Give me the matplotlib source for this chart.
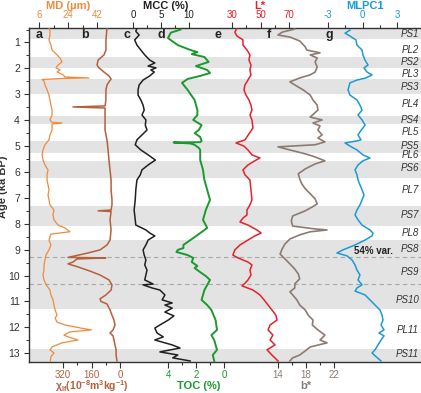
import matplotlib
matplotlib.use("Agg")
import matplotlib.pyplot as plt

plt.rcParams['font.family'] = ['Liberation Sans', 'DejaVu Sans']
plt.rcParams['mathtext.fontset'] = 'custom'
plt.rcParams['mathtext.rm'] = 'Liberation Sans:bold'
plt.rcParams['mathtext.default'] = 'rm'

# ---------------- data ----------------
md_age = [0.44, 0.55, 0.71, 0.90, 1.10, 1.29, 1.48, 1.60, 1.75, 1.87, 1.98, 2.06, 2.14, 2.25, 2.33, 2.37, 2.39,
          2.43, 2.47, 2.64, 2.83, 3.03, 3.22, 3.42, 3.61, 3.80, 3.99, 4.08, 4.11, 4.15, 4.38, 4.57, 4.76, 4.95,
          5.15, 5.34, 5.54, 5.73, 5.92, 6.11, 6.31, 6.50, 6.69, 6.89, 7.08, 7.27, 7.47, 7.66, 7.85, 8.05, 8.16,
          8.31, 8.40, 8.63, 8.82, 9.01, 9.21, 9.40, 9.59, 9.79, 9.98, 10.17, 10.36, 10.56, 10.75, 10.94, 11.14,
          11.33, 11.53, 11.64, 11.80, 11.91, 12.03, 12.10, 12.18, 12.30, 12.37, 12.49, 12.60, 12.76, 12.87,
          12.99, 13.14, 13.30]
md_val = [12.2, 12.8, 12.8, 12.2, 13.4, 14.1, 17.2, 19.0, 20.3, 17.8, 16.6, 19.0, 17.2, 21.0, 22.0, 37.0, 20.0,
          7.9, 9.0, 9.7, 11.0, 12.2, 12.8, 13.4, 14.1, 14.1, 12.8, 14.0, 20.3, 14.1, 14.1, 12.8, 12.2, 9.7,
          8.5, 7.9, 8.5, 9.7, 11.6, 11.0, 11.0, 11.6, 12.2, 11.6, 12.2, 12.8, 15.3, 14.7, 15.3, 17.8, 22.1,
          25.2, 13.4, 12.2, 13.4, 12.2, 10.3, 9.7, 9.1, 9.1, 8.5, 9.1, 10.5, 12.8, 13.4, 14.7, 15.3,
          16.0, 17.2, 16.0, 17.2, 22.1, 32.0, 38.5, 25.0, 21.5, 24.0, 30.2, 20.3, 14.1, 12.8,
          15.3, 13.4, 13.0]

chi_age = [0.44, 0.90, 1.29, 1.48, 1.68, 1.87, 1.98, 2.14, 2.29, 2.41, 2.50, 2.64, 2.83, 3.22, 3.45, 3.49, 3.53,
           3.61, 3.99, 4.38, 4.76, 5.15, 5.54, 5.92, 6.31, 6.69, 7.08, 7.27, 7.47, 7.50, 7.53, 7.85, 8.24, 8.63,
           8.82, 9.01, 9.13, 9.24, 9.30, 9.32, 9.36, 9.48, 9.55, 9.67, 9.83, 9.98, 10.17, 10.36, 10.56, 10.75,
           10.90, 11.00, 11.10, 11.33, 11.53, 11.72, 11.91, 12.10, 12.22, 12.33, 12.49, 12.68, 12.87, 13.07, 13.30]
chi_val = [73, 79, 79, 90, 123, 129, 118, 90, 62, 50, 60, 73, 79, 79, 84, 264, 84,
           84, 84, 84, 73, 67, 62, 56, 50, 50, 45, 45, 50, 123, 50, 56, 50, 56,
           73, 112, 180, 252, 292, 80, 241, 264, 292, 235, 168, 112, 62, 45, 50, 79,
           112, 107, 73, 56, 45, 34, 28, 39, 56, 39, 34, 28, 22, 22, 17]

mcc_age = [0.44, 0.57, 0.71, 0.90, 1.10, 1.29, 1.48, 1.68, 1.79, 1.91, 1.98, 2.06, 2.14, 2.29, 2.45, 2.64, 2.83,
           3.03, 3.22, 3.42, 3.61, 3.80, 3.99, 4.19, 4.38, 4.57, 4.76, 4.95, 5.15, 5.34, 5.54, 5.73, 5.92, 6.11,
           6.31, 6.69, 7.08, 7.47, 7.85, 8.05, 8.24, 8.36, 8.47, 8.63, 8.82, 9.01, 9.21, 9.40, 9.59, 9.79, 9.98,
           10.17, 10.33, 10.36, 10.48, 10.56, 10.75, 10.94, 11.06, 11.14, 11.26, 11.41, 11.56, 11.72, 11.91,
           12.03, 12.22, 12.37, 12.49, 12.68, 12.80, 12.95, 13.07, 13.18, 13.30]
mcc_val = [0.7, 0.5, 1.1, 0.3, 0.7, 1.4, 2.1, 3.0, 3.9, 2.7, 4.1, 3.2, 3.8, 3.0, 1.8, 1.1, 0.9,
           0.9, 1.4, 1.8, 2.0, 1.6, 2.3, 2.2, 2.5, 1.6, 0.7, 0.4, 1.4, 2.7, 4.0, 2.7, 1.6, 1.3,
           0.7, 0.5, 0.4, 0.2, 0.4, 0.5, 2.3, 3.0, 3.9, 2.7, 2.3, 1.8, 2.0, 2.3, 2.1, 2.5, 2.3,
           2.1, 3.6, 1.8, 3.4, 4.8, 5.7, 5.2, 7.0, 5.7, 7.0, 5.7, 7.3, 6.3, 4.8,
           3.9, 4.3, 5.4, 3.9, 7.0, 8.4, 4.8, 8.0, 7.1, 10.2]

toc_age = [0.50, 0.62, 0.83, 1.10, 1.29, 1.37, 1.45, 1.56, 1.75, 1.91, 2.06, 2.18, 2.29, 2.41, 2.56, 2.83, 3.22,
           3.61, 3.80, 3.99, 4.19, 4.38, 4.50, 4.65, 4.80, 4.85, 4.86, 4.90, 4.95, 5.07, 5.15, 5.54, 5.92, 6.31,
           6.69, 7.08, 7.47, 7.85, 8.16, 8.44, 8.63, 8.82, 8.94, 9.01, 9.09, 9.21, 9.32, 9.48, 9.63, 9.71, 9.87,
           10.02, 10.17, 10.56, 10.94, 11.14, 11.33, 11.72, 12.10, 12.30, 12.49, 12.68, 12.87, 13.07, 13.30]
toc_val = [3.1, 3.8, 4.0, 3.3, 2.4, 1.9, 2.3, 1.4, 1.1, 2.0, 1.2, 1.0, 1.7, 2.6, 3.0, 2.6, 2.1,
           1.9, 1.9, 2.2, 1.6, 1.8, 2.1, 1.7, 1.6, 1.7, 3.6, 2.4, 2.1, 1.8, 1.7, 1.7, 1.5, 1.4,
           1.2, 1.0, 1.3, 1.5, 1.2, 1.9, 2.4, 2.9, 2.9, 3.3, 3.4, 2.6, 2.2, 2.3, 1.9, 2.1, 1.7,
           1.3, 1.0, 1.4, 1.6, 1.2, 0.9, 0.6, 0.5, 0.9, 0.7, 0.6, 0.5, 0.8, 0.7]

l_age = [0.44, 0.60, 0.75, 0.90, 1.10, 1.29, 1.48, 1.68, 1.87, 2.06, 2.25, 2.45, 2.64, 2.83, 3.03, 3.22, 3.42,
         3.61, 3.80, 3.99, 4.30, 4.76, 4.88, 5.00, 5.15, 5.34, 5.46, 5.57, 5.73, 5.92, 6.11, 6.31, 6.69, 7.08,
         7.27, 7.47, 7.66, 7.78, 7.93, 8.05, 8.24, 8.36, 8.47, 8.63, 8.82, 9.01, 9.21, 9.32, 9.48, 9.59, 9.79,
         9.98, 10.17, 10.30, 10.40, 10.56, 10.75, 10.94, 11.14, 11.33, 11.53, 11.72, 11.91, 12.10, 12.30,
         12.49, 12.68, 12.87, 13.07, 13.30]
l_val = [33.5, 32.0, 33.5, 37.7, 37.7, 40.5, 42.6, 41.9, 43.3, 42.6, 43.3, 41.2, 39.1, 38.4, 39.8, 41.9, 43.3,
         44.0, 42.6, 44.0, 44.7, 39.1, 32.8, 38.4, 41.2, 44.0, 49.6, 46.0, 41.2, 37.7, 39.1, 42.6, 43.3, 44.0,
         42.6, 40.5, 40.5, 37.7, 35.6, 41.2, 47.5, 50.4, 46.0, 41.2, 35.6, 32.0, 30.6, 34.2, 41.2, 44.0, 42.6,
         43.3, 41.2, 39.1, 37.0, 44.7, 49.6, 52.5, 55.3, 58.0, 60.8, 61.6, 56.7, 55.3, 58.7,
         56.7, 60.2, 54.6, 58.0, 62.3]

b_age = [0.48, 0.60, 0.71, 0.79, 0.94, 1.17, 1.29, 1.40, 1.48, 1.60, 1.75, 1.95, 2.14, 2.25, 2.37, 2.52, 2.64,
         2.83, 3.03, 3.22, 3.42, 3.61, 3.88, 3.99, 4.11, 4.22, 4.38, 4.57, 4.69, 4.84, 4.95, 5.03, 5.15, 5.30,
         5.42, 5.57, 5.69, 5.88, 6.07, 6.27, 6.46, 6.65, 6.84, 7.04, 7.23, 7.35, 7.50, 7.70, 7.89, 8.09, 8.20,
         8.24, 8.31, 8.43, 8.59, 8.78, 8.97, 9.17, 9.36, 9.55, 9.75, 9.94, 10.13, 10.32, 10.48, 10.63, 10.75,
         10.94, 11.14, 11.33, 11.53, 11.72, 11.91, 12.10, 12.30, 12.49, 12.60, 12.76, 12.91, 13.07, 13.18, 13.30]
b_val = [16.4, 14.6, 14.0, 15.7, 17.1, 17.9, 18.1, 20.0, 18.6, 19.6, 19.3, 19.6, 19.3, 18.6, 17.1, 15.7, 16.4,
         17.6, 18.6, 19.0, 19.6, 19.7, 18.6, 20.3, 19.0, 20.0, 19.7, 20.3, 19.7, 20.7, 19.3, 14.0, 15.7, 17.9,
         19.3, 20.7, 19.3, 17.9, 16.9, 17.1, 17.4, 17.9, 18.6, 19.3, 19.6, 18.9, 17.9, 16.1, 15.9, 16.1, 19.3,
         21.0, 18.6, 17.1, 15.7, 15.0, 14.6, 14.3, 15.0, 15.7, 16.4, 16.9, 17.1, 16.4, 16.4, 15.7, 16.1,
         16.7, 17.1, 17.9, 18.3, 19.0, 18.9, 19.7, 20.7, 20.0, 21.0, 18.6, 17.9, 17.1, 16.1, 15.7]

pc_age = [0.52, 0.64, 0.75, 0.90, 1.10, 1.29, 1.48, 1.68, 1.87, 1.98, 2.14, 2.25, 2.37, 2.45, 2.56, 2.83, 3.03,
          3.22, 3.42, 3.61, 3.80, 3.99, 4.19, 4.30, 4.45, 4.57, 4.76, 4.80, 4.88, 5.00, 5.15, 5.34, 5.46, 5.57,
          5.73, 5.92, 6.11, 6.31, 6.50, 6.69, 6.89, 7.08, 7.27, 7.47, 7.66, 7.85, 8.05, 8.24, 8.36, 8.47, 8.63,
          8.82, 9.01, 9.13, 9.24, 9.40, 9.59, 9.79, 9.98, 10.17, 10.36, 10.48, 10.60, 10.75, 10.94, 11.14,
          11.33, 11.53, 11.72, 11.91, 12.10, 12.22, 12.33, 12.49, 12.68, 12.87, 12.99, 13.10, 13.30]
pc_val = [-1.09, -1.52, -1.09, -0.57, -0.48, -0.04, 0.04, 0.22, 0.48, 0.13, 0.39, 0.83, 0.30, -0.48, -1.09, -1.26, -1.09,
          -0.48, -0.22, -0.04, -0.39, -0.04, 0.22, 0.04, -0.22, -0.39, -0.13, -0.48, -1.52, -1.09, -0.48, 0.04, 0.65, 0.04,
          -0.39, -0.65, -0.48, -0.39, -0.22, -0.04, 0.13, -0.04, -0.22, -0.48, -0.65, -0.39, -0.04, 0.65, 0.91, 0.83, 0.22,
          -0.65, -1.70, -2.22, -1.35, -0.91, -0.65, -0.48, -0.22, -0.39, -0.04, -0.48, -0.65, 0.22, 0.65, 1.09,
          1.52, 1.70, 1.78, 1.61, 1.87, 1.43, 1.87, 1.61, 1.35, 1.09, 0.83, 1.09, 1.61]

band_start = [0.40, 1.56, 2.41, 3.84, 4.80, 5.59, 7.32, 8.63, 12.85]
band_end = [0.865, 1.98, 2.99, 4.15, 5.27, 6.24, 8.09, 11.30, 13.40]

unit_names = ['PS1', 'PL2', 'PS2', 'PL3', 'PS3', 'PL4', 'PS4', 'PL5', 'PS5', 'PL6', 'PS6', 'PL7',
              'PS7', 'PL8', 'PS8', 'PS9', 'PS10', 'PL11', 'PS11']
unit_ages = [0.67, 1.29, 1.75, 2.22, 2.72, 3.37, 3.99, 4.44, 4.98, 5.36, 5.86, 6.68,
             7.68, 8.34, 8.99, 9.88, 10.94, 12.10, 13.03]

dash_ages = [9.30, 10.34]
age_ticks = list(range(1, 14))
age_minor_ticks = [0.5 + i for i in range(13)]

# ---------------- layout ----------------
W, H = 421, 393
L, R, T, B = 29, 421, 28, 362
AGE_TOP, AGE_BOT = 0.44, 13.34

C_MD = '#f08a3c'
C_CHI = '#b4603c'
C_MCC = '#231f20'
C_TOC = '#1a9a2e'
C_L = '#e8202a'
C_B = '#8c7b72'
C_PC = '#1a9ad6'
TICKC = '#333333'

fig = plt.figure(figsize=(W / 100, H / 100), dpi=100)
ax = fig.add_axes([L / W, 1 - B / H, (R - L) / W, (B - T) / H])
ax.set_xlim(L, R)
ax.set_ylim(AGE_BOT, AGE_TOP)
for s, e in zip(band_start, band_end):
    ax.axhspan(s, e, color='#e3e3e3', lw=0, zorder=0)
for a in dash_ages:
    ax.axhline(a, color='#a8a8a8', lw=0.8, ls=(0, (4, 3)), zorder=1)
ax.spines['right'].set_visible(False)
for sp in ['left', 'top', 'bottom']:
    ax.spines[sp].set_color(TICKC)
    ax.spines[sp].set_linewidth(1.0)
ax.set_yticks(age_ticks)
ax.set_yticks(age_minor_ticks, minor=True)
ax.tick_params(axis='y', which='major', length=3.5, width=0.8, color=TICKC, labelsize=7.5, pad=3,
               labelcolor='#333333')
ax.tick_params(axis='y', which='minor', length=2, width=0.7, color=TICKC)
ax.set_ylabel('Age (ka BP)', fontsize=8, fontweight='bold', color='#333333')
ax.yaxis.set_label_coords((8.5 - L) / (R - L), (B - 187) / (B - T))

for name, a in zip(unit_names, unit_ages):
    ax.text(419, a, name, ha='right', va='center', fontsize=7, style='italic', color='#333333', zorder=5)
ax.text(354, 9.05, '54% var.', ha='left', va='center', fontsize=7, fontweight='bold', color='#222222', zorder=5)


def add_series(age, val, color, v0, p0, v1, p1, majors, minors, side, lw=1.0):
    t = ax.twiny()
    s = (p1 - p0) / (v1 - v0)
    t.set_xlim(v0 + (L - p0) / s, v0 + (R - p0) / s)
    t.plot(val, age, color=color, lw=lw, solid_joinstyle='round')
    for sp in t.spines.values():
        sp.set_visible(False)
    if side == 'bottom':
        t.xaxis.tick_bottom()
    else:
        t.xaxis.tick_top()
    t.set_xticks(majors)
    t.set_xticks(minors, minor=True)
    t.set_xticklabels([f'{m:g}' for m in majors])
    t.tick_params(axis='x', which='major', length=4, width=0.8, color=TICKC,
                  labelcolor=color, labelsize=7, pad=1.5)
    t.tick_params(axis='x', which='minor', length=2.5, width=0.8, color=TICKC)
    t.set_ylim(AGE_BOT, AGE_TOP)
    return t


add_series(md_age, md_val, C_MD, 6, 39, 42, 97, [6, 24, 42], [15, 33], 'top', lw=0.9)
add_series(chi_age, chi_val, C_CHI, 320, 63, 0, 120, [320, 160, 0], [240, 80], 'bottom', lw=1.1)
add_series(mcc_age, mcc_val, C_MCC, 0, 133, 10, 189, [0, 5, 10], [2.5, 7.5], 'top', lw=1.1)
add_series(toc_age, toc_val, C_TOC, 4, 168, 0, 224, [4, 2, 0], [3, 1], 'bottom', lw=1.4)
add_series(l_age, l_val, C_L, 30, 232, 70, 289, [30, 50, 70], [40, 60], 'top', lw=1.1)
add_series(b_age, b_val, C_B, 14, 278, 22, 334, [14, 18, 22], [16, 20], 'bottom', lw=1.2)
add_series(pc_age, pc_val, C_PC, -3, 328, 3, 397, [-3, 0, 3], [-1.5, 1.5], 'top', lw=1.1)
ax.set_xticks([])


def ftext(x, y, s, **kw):
    fig.text(x / W, 1 - y / H, s, ha='center', va='center', **kw)


ftext(68, 6, 'MD (µm)', color=C_MD, fontsize=8, fontweight='bold')
ftext(166, 6, 'MCC (%)', color=C_MCC, fontsize=8, fontweight='bold')
ftext(260, 6, 'L*', color=C_L, fontsize=8, fontweight='bold')
ftext(365, 6, 'MLPC1', color=C_PC, fontsize=8, fontweight='bold')
ftext(92, 386, r'$\chi_{lf}$(10$^{-8}$m$^{3}$kg$^{-1}$)', color=C_CHI, fontsize=7.5, fontweight='bold')
ftext(199, 386, 'TOC (%)', color=C_TOC, fontsize=8, fontweight='bold')
ftext(306, 386, 'b*', color=C_B, fontsize=8, fontweight='bold')

for letter, x in zip('abcdefg', [39, 85, 127, 161, 218, 269, 329]):
    ftext(x, 35, letter, color='#222222', fontsize=9, fontweight='bold')

fig.savefig('out.png', dpi=100)
